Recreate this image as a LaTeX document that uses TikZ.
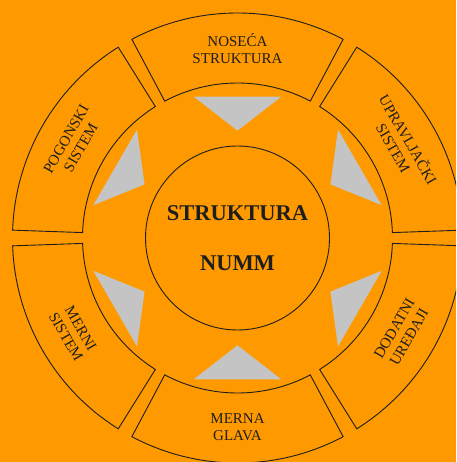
\documentclass[tikz,border=0pt]{standalone}
\usepackage{fontspec}
\setmainfont{Liberation Serif}
\usepackage{tikz}
\usetikzlibrary{positioning}
\definecolor{ringorange}{HTML}{FF9900}
\definecolor{wedgegray}{HTML}{C4C4C4}
\definecolor{inkdark}{HTML}{1E1E1E}
\tikzset{segbox/.style={draw=inkdark, line width=0.9pt, line join=miter}}
\tikzset{seglabel/.style={align=center, text=inkdark, font=\fontsize{15}{17}\selectfont, inner sep=0pt}}
\tikzset{hubcircle/.style={circle, draw=inkdark, line width=0.9pt, minimum size=184pt, inner sep=0pt, align=center, text=inkdark, font=\fontsize{22.5}{50}\selectfont\bfseries}}
\tikzset{wedge/.style={fill=wedgegray, draw=none}}

\begin{document}
\begin{tikzpicture}[x=1pt, y=1pt]

\useasboundingbox (-237.5,-224) rectangle (218.5,238);
\clip (-237.5,-224) rectangle (218.5,238);
\fill[ringorange] (-237.5,-224) rectangle (218.5,238);

\draw[segbox] (62:155) arc[start angle=62, end angle=118, radius=155] -- (118:225) arc[start angle=118, end angle=62, radius=225] -- cycle;
\draw[segbox] (2:155) arc[start angle=2, end angle=58, radius=155] -- (58:225) arc[start angle=58, end angle=2, radius=225] -- cycle;
\draw[segbox] (-58:155) arc[start angle=-58, end angle=-2, radius=155] -- (-2:225) arc[start angle=-2, end angle=-58, radius=225] -- cycle;
\draw[segbox] (-118:155) arc[start angle=-118, end angle=-62, radius=155] -- (-62:225) arc[start angle=-62, end angle=-118, radius=225] -- cycle;
\draw[segbox] (182:155) arc[start angle=182, end angle=238, radius=155] -- (238:225) arc[start angle=238, end angle=182, radius=225] -- cycle;
\draw[segbox] (122:155) arc[start angle=122, end angle=178, radius=155] -- (178:225) arc[start angle=178, end angle=122, radius=225] -- cycle;

\fill[wedge] (72.8:147.9) -- (107.2:147.9) -- (90:107.3) -- cycle;
\fill[wedge] (12.8:147.9) -- (47.2:147.9) -- (30:107.3) -- cycle;
\fill[wedge] (-47.2:147.9) -- (-12.8:147.9) -- (-30:107.3) -- cycle;
\fill[wedge] (-107.2:147.9) -- (-72.8:147.9) -- (-90:107.3) -- cycle;
\fill[wedge] (192.8:147.9) -- (227.2:147.9) -- (210:107.3) -- cycle;
\fill[wedge] (132.8:147.9) -- (167.2:147.9) -- (150:107.3) -- cycle;

\node[hubcircle] (hub) at (0,0) {STRUKTURA\\NUMM};

\node[seglabel] (noseca) at (90:189.5) {NOSEĆA\\STRUKTURA};
\node[seglabel, rotate=-60] (upravljacki) at (30:189.5) {UPRAVLJAČKI\\SISTEM};
\node[seglabel, rotate=60] (dodatni) at (-30:189.5) {DODATNI\\UREĐAJI};
\node[seglabel] (merna) at (-90:189.5) {MERNA\\GLAVA};
\node[seglabel, rotate=-60] (merni) at (210:189.5) {MERNI\\SISTEM};
\node[seglabel, rotate=60] (pogonski) at (150:189.5) {POGONSKI\\SISTEM};

\end{tikzpicture}
\end{document}
